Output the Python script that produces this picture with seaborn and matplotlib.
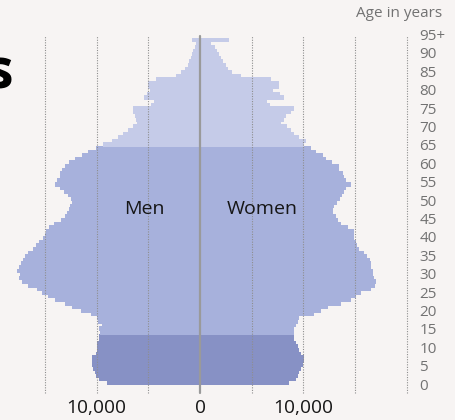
import numpy as np
import pandas as pd
import matplotlib
matplotlib.use("Agg")
import matplotlib.pyplot as plt
import seaborn as sns
from matplotlib.transforms import blended_transform_factory

# ---------------- data ----------------
ages = list(range(96))  # 0 .. 95+
men = [8950, 9735, 10057, 10150, 10380, 10476, 10476, 10476, 10057, 9930,
       9930, 9930, 9735, 9735, 9670, 9735, 9510, 9830, 9950, 10500,
       11500, 12400, 13100, 14000, 14700, 15300, 15800, 16600, 17200, 17550,
       17400, 17650, 17550, 17350, 17100, 16900, 16600, 16150, 15850, 15550,
       15200, 15000, 14900, 14600, 14100, 13450, 13100, 12900, 12700, 12600,
       12350, 12500, 12800, 13130, 13540, 14020, 13850, 13570, 13500, 13330,
       13100, 12650, 12100, 11450, 10800, 10100, 9412, 8542, 7962, 7414,
       6930, 6511, 6124, 6200, 6286, 6450, 6511, 4700, 4448, 5383,
       5157, 4835, 4997, 4997, 4255, 2350, 1870, 1450, 1128, 1031,
       870, 742, 645, 516, 387, 745]
women = [8540, 9190, 9350, 9510, 9670, 9830, 9930, 9990, 9670, 9510,
         9350, 9190, 9025, 9025, 8960, 9025, 9190, 9350, 9500, 10900,
         11600, 12250, 13550, 14500, 15000, 15500, 16400, 16800, 16900, 16750,
         16650, 16600, 16450, 16400, 16300, 16100, 15800, 15300, 15100, 15000,
         14750, 14750, 14800, 14200, 13550, 13250, 13050, 12800, 12750, 12900,
         13150, 13400, 13600, 13860, 14022, 14470, 14022, 13861, 13700, 13378,
         13378, 12636, 12088, 11766, 11120, 10637, 10000, 10200, 9508, 9025,
         8703, 8316, 7736, 8058, 8220, 8703, 9025, 6640, 6382, 7994,
         7650, 6930, 7575, 7575, 6800, 3900, 3000, 2650, 2400, 2150,
         1950, 1750, 1550, 1350, 1000, 2740]
age_tick_values = list(range(0, 96, 5))
age_tick_labels = [str(a) for a in range(0, 95, 5)] + ["95+"]
x_tick_values = [-10000, 0, 10000]
x_tick_labels = ["10,000", "0", "10,000"]
grid_values = [-15000, -10000, -5000, 5000, 10000, 15000, 20000]
group_names = ["young", "working", "old"]
palette = {"young": "#8791c5", "working": "#a7b1dc", "old": "#c5cbe8"}


def group_of(a):
    if a < 14:
        return "young"
    if a < 66:
        return "working"
    return "old"


groups = [group_of(a) for a in ages]
df_m = pd.DataFrame({"age": ages, "value": [-v for v in men], "group": groups})
df_w = pd.DataFrame({"age": ages, "value": women, "group": groups})

# ---------------- layout helpers (pixel -> data) ----------------
W, H = 456, 420
X0, XS = 200.0, 96.7      # center pixel, value per pixel
Y0, YS = 384.0, 3.607     # bottom of age-0 bar, pixels per year


def px(p):
    return (p - X0) * XS


def py(p):
    return -0.5 + (Y0 - p) / YS


BG = "#f7f4f3"
sns.set_style("white")
plt.rcParams["font.family"] = ["Open Sans", "DejaVu Sans"]

fig = plt.figure(figsize=(W / 100, H / 100), dpi=100, facecolor=BG)
ax = fig.add_axes([0, 0, 1, 1])
ax.set_facecolor(BG)

for d in (df_m, df_w):
    sns.barplot(data=d, x="value", y="age", hue="group", hue_order=group_names,
                palette=palette, orient="h", native_scale=True, width=1.0,
                dodge=False, saturation=1, linewidth=0, legend=False,
                errorbar=None, ax=ax)

for p in ax.patches:
    p.set_edgecolor(p.get_facecolor())
    p.set_linewidth(0.7)
    p.set_antialiased(False)

ax.set_xlim(px(0), px(W))
ax.set_ylim(py(H), py(0))
ax.axis("off")

# gridlines and center line
ax.vlines(grid_values, py(393), py(36), colors="#8e8e8e",
          linestyles=(0, (1, 1.3)), linewidth=0.8, zorder=4)
ax.plot([0, 0], [py(393), py(36)], color="#9a9a9a", lw=1.6, zorder=5)

# age labels on the right
tr = blended_transform_factory(ax.transAxes, ax.transData)
for a, lab in zip(age_tick_values, age_tick_labels):
    base_px = 389.6 - 3.679 * a
    ax.text(419.3 / W, py(base_px), lab, transform=tr, ha="left",
            va="baseline", fontsize=11, color="#727272")
fig.text(442 / W, 1 - 17.3 / H, "Age in years", ha="right", va="baseline",
         fontsize=11, color="#727272")

# bottom value labels
for v, lab in zip(x_tick_values, x_tick_labels):
    ax.text(v, py(412.7), lab, ha="center", va="baseline", fontsize=13.8,
            color="#161616")

# group labels
ax.text(px(144.5), py(214), "Men", ha="center", va="baseline", fontsize=14,
        color="#161616", zorder=6)
ax.text(px(262), py(214), "Women", ha="center", va="baseline", fontsize=14,
        color="#161616", zorder=6)

# cut-off title fragment at the left edge (as in the reference)
fig.text(13 / W, 1 - 88.3 / H, "s", ha="right", va="baseline", fontsize=40,
         fontweight="bold", color="#000000")

fig.savefig("out.png", dpi=100, facecolor=BG)
